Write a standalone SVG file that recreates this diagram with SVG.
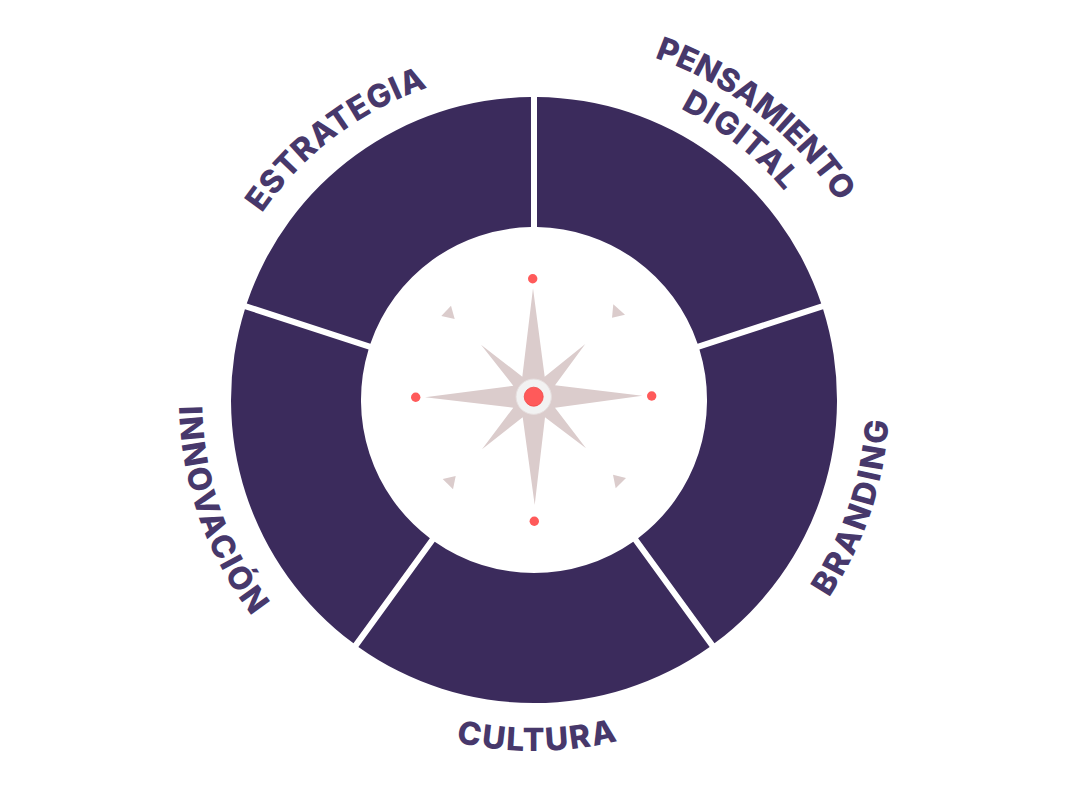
<svg xmlns="http://www.w3.org/2000/svg" xmlns:xlink="http://www.w3.org/1999/xlink" width="1067" height="800" viewBox="0 0 1067 800">
<style>
.w{fill:#3b2b5c}
.l{font-family:"Inter","Liberation Sans",sans-serif;font-weight:800;font-size:32px;letter-spacing:1.1px;fill:#47386b;text-anchor:middle}
.s{fill:#dbcccc}
.d{fill:#ff5a5a}
.g{fill:none}
</style>
<defs>
<path id="wedge" d="M537,97 A303,303 0 0 1 821.2,303.5 L697.6,343.7 A173,173 0 0 0 537,227 Z"/>
<path id="t330" class="g" d="M204,400 A330,330 0 0 1 864,400"/>
<path id="t328" class="g" d="M208,400 A326,326 0 0 1 860,400"/>
<path id="t362" class="g" d="M171,400 A363,363 0 0 1 897,400"/>
<path id="b350" class="g" d="M183,400 A351,351 0 0 0 885,400"/>
<path id="b354" class="g" d="M179,400 A355,355 0 0 0 889,400"/>
</defs>
<rect width="1067" height="800" fill="#ffffff"/>
<g id="segment-pensamiento"><use href="#wedge" class="w"/></g>
<g id="segment-branding"><use href="#wedge" class="w" transform="rotate(72 534 400)"/></g>
<g id="segment-cultura"><use href="#wedge" class="w" transform="rotate(144 534 400)"/></g>
<g id="segment-innovacion"><use href="#wedge" class="w" transform="rotate(216 534 400)"/></g>
<g id="segment-estrategia"><use href="#wedge" class="w" transform="rotate(288 534 400)"/></g>
<g id="label-estrategia" transform="rotate(-37.1 534 400)"><text class="l" style="letter-spacing:.8px"><textPath href="#t330" startOffset="50%">ESTRATEGIA</textPath></text></g>
<g id="label-pensamiento" transform="rotate(38.2 534 400)"><text class="l" style="letter-spacing:0"><textPath href="#t362" startOffset="50%">PENSAMIENTO</textPath></text></g>
<g id="label-digital" transform="rotate(38.5 534 400)"><text class="l"><textPath href="#t328" startOffset="50%">DIGITAL</textPath></text></g>
<g id="label-branding" transform="rotate(-71.6 534 400)"><text class="l" style="letter-spacing:2.4px"><textPath href="#b354" startOffset="50%">BRANDING</textPath></text></g>
<g id="label-cultura" transform="rotate(-0.6 534 400)"><text class="l" style="letter-spacing:1.7px"><textPath href="#b350" startOffset="50%">CULTURA</textPath></text></g>
<g id="label-innovacion" transform="rotate(70.6 534 400)"><text class="l" style="letter-spacing:1.9px"><textPath href="#b354" startOffset="50%">INNOVACIÓN</textPath></text></g>
<g id="compass">
<polygon class="s" points="533,288.3 544.7,376.7 585.3,344 555,385.3 642.3,395.7 555,407.7 586,448.3 545,417.3 534.7,505 522.7,417.3 482,449.3 513.3,407.7 425,397.3 513.3,385.7 481,344.7 522.3,376.7"/>
<polygon class="s" points="451,305.7 441.3,316 454.7,319"/>
<polygon class="s" points="613.3,304.3 625,314.7 612,317.7"/>
<polygon class="s" points="442.7,479 455.7,476 453,489.3"/>
<polygon class="s" points="613,474.7 626,478 615.7,488.3"/>
<circle cx="533.7" cy="396.7" r="17.7" fill="#f2f2f2" stroke="#e6dede" stroke-width="1"/>
<circle cx="533.7" cy="396.7" r="9.5" class="d" stroke="#f04848" stroke-width="0.8"/>
<circle cx="532.7" cy="278.7" r="4.7" class="d"/>
<circle cx="415.7" cy="397.3" r="4.7" class="d"/>
<circle cx="651.7" cy="396" r="4.7" class="d"/>
<circle cx="534.3" cy="521.3" r="4.7" class="d"/>
</g>
</svg>
